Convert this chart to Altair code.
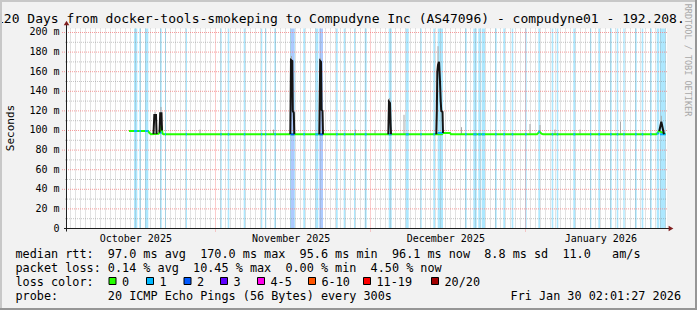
import altair as alt
import pandas as pd

# ---------------- chart values ----------------
title_text = "120 Days from docker-tools-smokeping to Compudyne Inc (AS47096) - compudyne01 - 192.208."
y_title = "Seconds"
watermark = "RRDTOOL / TOBI OETIKER"

y_ticks_ms = [0, 20, 40, 60, 80, 100, 120, 140, 160, 180, 200]
y_ticks_text = ["0", "20 m", "40 m", "60 m", "80 m", "100 m", "120 m", "140 m", "160 m", "180 m", "200 m"]
y_minor_ms = [10, 30, 50, 70, 90, 110, 130, 150, 170, 190]

month_names = ["October 2025", "November 2025", "December 2025", "January 2026"]
month_label_day = [13.76, 44.84, 75.76, 106.76]
month_line_day = [29.7, 60.7, 91.7]
day_line_day = [0.7 + i for i in range(120)]

# median rtt (days since start of 120-day window, ms)
median_day = [12.4, 16.2, 16.5, 16.8, 18.3, 18.5, 18.9, 19.1, 19.3, 75.0, 75.2, 76.6, 76.8,
              94.0, 94.5, 94.9, 95.2, 117.9, 118.4, 119.4, 119.7]
median_ms = [99.5, 99.5, 97.5, 96.3, 96.6, 97.8, 105.0, 97.0, 96.1, 96.1, 97.5, 97.5, 96.1,
             96.1, 98.8, 96.8, 96.1, 96.1, 99.5, 96.8, 96.1]

# latency spikes
spike_id = [1] * 4 + [2] * 4 + [3] * 6 + [4] * 6 + [5] * 5 + [6] * 10 + [8] * 3
spike_day = [17.3, 17.46, 17.8, 17.92,
             18.5, 18.64, 18.9, 19.0,
             44.66, 44.8, 45.06, 45.16, 45.36, 45.46,
             50.46, 50.64, 50.8, 50.92, 51.1, 51.2,
             64.26, 64.4, 64.6, 64.72, 64.8,
             73.86, 73.96, 74.06, 74.2, 74.4, 74.6, 74.74, 74.86, 75.1, 75.2,
             118.46, 118.86, 119.4]
spike_ms = [96.3, 115.8, 115.8, 96.3,
            97.8, 117.5, 117.5, 100.0,
            96.1, 172.0, 171.0, 120.0, 118.0, 96.1,
            96.1, 171.0, 170.0, 121.0, 120.0, 96.1,
            96.1, 129.4, 128.0, 107.0, 96.1,
            96.1, 117.5, 160.0, 166.8, 170.0, 150.0, 130.0, 120.0, 119.0, 97.5,
            99.5, 109.0, 96.1]

# smoke (ping spread)
smoke_day = [17.6, 18.8, 44.9, 50.7, 64.5, 74.2, 118.86, 26.6, 41.3, 57.7, 61.6, 67.4,
             78.9, 92.6, 94.6, 97.6, 102.6, 110.7]
smoke_lo = [115.8, 117.5, 170, 170, 128, 166, 109, 96, 96, 96, 96, 96, 96, 96, 98.8, 96, 96, 96]
smoke_hi = [119, 124, 176, 174, 133, 186, 115, 101, 101, 101, 100.5, 116, 103.4, 106.6, 105.6,
            101, 101, 109]

# packet loss periods (start day, end day, lost pings, median at that time)
loss_start = [13.4, 14.46, 15.6, 18.6, 19.6, 23.74, 30.66, 32.14, 35.34,
              38.8, 39.6, 41.46, 44.6, 44.8, 45.46, 47.26, 49.66, 50.46, 53.8, 55.34, 57.4,
              59.54, 64.34, 67.74, 70.66, 73.26, 74.14,
              79.6, 81.26, 82.26, 82.94, 85.6, 87.26, 88.94, 91.6, 94.26, 96.94, 97.94, 101.26,
              104.6, 106.26, 108.6, 109.94, 111.26, 113.6, 114.94, 116.6, 117.94, 118.6]
loss_end = [14.06, 14.8, 16.26, 18.94, 19.8, 24.0, 30.94, 32.46, 35.66,
            39.06, 39.86, 41.8, 44.8, 45.46, 45.6, 47.6, 50.26, 51.2, 54.14, 55.66, 57.66,
            59.94, 64.94, 68.34, 70.94, 73.6, 75.2,
            79.94, 81.94, 82.74, 83.6, 85.94, 87.6, 89.26, 91.94, 94.6, 97.26, 98.26, 101.66,
            104.86, 106.6, 108.94, 110.26, 111.54, 113.94, 115.26, 116.94, 118.46, 119.74]
loss_level = [1, 1, 1, 1, 1, 1, 1, 1, 1,
              1, 1, 1, 1, 2, 1, 1, 1, 2, 1, 1, 1,
              1, 1, 1, 1, 1, 1,
              1, 1, 1, 1, 1, 1, 1, 1, 1, 1, 1, 1,
              1, 1, 1, 1, 1, 1, 1, 1, 1, 1]
loss_median = [99.5, 99.5, 99.5, 97.8, 96.1, 96.1, 96.1, 96.1, 96.1,
               96.1, 96.1, 96.1, 96.1, 96.1, 96.1, 96.1, 96.1, 96.1, 96.1, 96.1, 96.1,
               96.1, 96.1, 96.1, 96.1, 96.1, 97.5,
               96.1, 96.1, 96.1, 96.1, 96.1, 96.1, 96.1, 96.1, 98.8, 96.1, 96.1, 96.1,
               96.1, 96.1, 96.1, 96.1, 96.1, 96.1, 96.1, 96.1, 97.0, 96.1]

# legend
median_line_text = "median rtt:  97.0 ms avg  170.0 ms max  95.6 ms min  96.1 ms now  8.8 ms sd  11.0   am/s"
loss_line_text = "packet loss: 0.14 % avg  10.45 % max  0.00 % min  4.50 % now"
loss_color_title = "loss color:"
loss_labels = ["0", "1", "2", "3", "4-5", "6-10", "11-19", "20/20"]
loss_hex = ["#26ff00", "#00b8ff", "#0059ff", "#5e00ff", "#ff00ea", "#ff5500", "#ff0000", "#a10000"]
probe_text = "probe:       20 ICMP Echo Pings (56 Bytes) every 300s"
date_text = "Fri Jan 30 02:01:27 2026"

# ---------------- layout ----------------
X0, Y0 = 67, 28.5
PW, PH = 600, 200
YMAX = 204.08
FONT = "DejaVu Sans Mono"
NB = "\u00a0"

xs = alt.Scale(domain=[0, 120], nice=False, zero=False)
ys = alt.Scale(domain=[0, YMAX], nice=False, zero=False)


def X(f):
    return alt.X(f, scale=xs, axis=None)


def Y(f):
    return alt.Y(f, scale=ys, axis=None)


def px(v):
    return alt.value(v - X0)


def py(v):
    return alt.value(v - Y0)


def txt(t, x, y, size, align="left", baseline="alphabetic", angle=0, color="#000000"):
    return alt.Chart(pd.DataFrame({"t": [t.replace(" ", NB)]})).mark_text(
        font=FONT, fontSize=size, align=align, baseline=baseline, angle=angle, color=color
    ).encode(text="t:N", x=px(x), y=py(y))


layers = []

# loss bands
bands_df = pd.DataFrame({"d0": loss_start, "d1": loss_end, "lvl": loss_level, "med": loss_median})
bands_df["fill"] = [loss_hex[l] for l in bands_df["lvl"]]
layers.append(alt.Chart(bands_df).mark_rect(opacity=0.32).encode(
    x=X("d0:Q"), x2="d1:Q", y=alt.value(0), y2=alt.value(PH),
    color=alt.Color("fill:N", scale=None)))

# grids
minor_v = [d for d in day_line_day if all(abs(d - m) > 0.01 for m in month_line_day)]
layers.append(alt.Chart(pd.DataFrame({"d": minor_v})).mark_rule(
    color="#8c8c8c", opacity=0.5, strokeDash=[1, 1], strokeWidth=1).encode(
    x=X("d:Q"), y=alt.value(0), y2=alt.value(PH)))
layers.append(alt.Chart(pd.DataFrame({"ms": y_minor_ms})).mark_rule(
    color="#8c8c8c", opacity=0.5, strokeDash=[1, 1], strokeWidth=1).encode(
    y=Y("ms:Q"), x=alt.value(-2), x2=alt.value(PW)))
layers.append(alt.Chart(pd.DataFrame({"d": month_line_day})).mark_rule(
    color="#f58080", opacity=0.8, strokeDash=[1, 1], strokeWidth=1).encode(
    x=X("d:Q"), y=alt.value(0), y2=alt.value(PH + 3)))
layers.append(alt.Chart(pd.DataFrame({"ms": y_ticks_ms[1:]})).mark_rule(
    color="#f58080", opacity=0.8, strokeDash=[1, 1], strokeWidth=1).encode(
    y=Y("ms:Q"), x=alt.value(-5), x2=alt.value(PW)))

# smoke
layers.append(alt.Chart(pd.DataFrame({"d": smoke_day, "lo": smoke_lo, "hi": smoke_hi})).mark_rule(
    color="#a8a8a8", strokeWidth=1).encode(x=X("d:Q"), y=Y("lo:Q"), y2="hi:Q"))

# median line
layers.append(alt.Chart(pd.DataFrame({"d": median_day, "ms": median_ms})).mark_line(
    color="#26ff00", strokeWidth=2).encode(x=X("d:Q"), y=Y("ms:Q")))

# median coloured by loss during loss periods
layers.append(alt.Chart(bands_df).mark_rule(strokeWidth=2).encode(
    x=X("d0:Q"), x2="d1:Q", y=Y("med:Q"), color=alt.Color("fill:N", scale=None)))

# spikes
layers.append(alt.Chart(pd.DataFrame({"d": spike_day, "ms": spike_ms, "id": spike_id})).mark_line(
    color="#141414", strokeWidth=2).encode(x=X("d:Q"), y=Y("ms:Q"), detail="id:N"))

# axes
layers.append(alt.Chart(pd.DataFrame({"a": [0]})).mark_rule(color="#1f1f1f", strokeWidth=1).encode(
    x=alt.value(-0.5), y=alt.value(-4), y2=alt.value(PH + 3)))
layers.append(alt.Chart(pd.DataFrame({"a": [0]})).mark_rule(color="#1f1f1f", strokeWidth=1).encode(
    y=alt.value(PH), x=alt.value(-3), x2=alt.value(PW + 3)))
layers.append(alt.Chart(pd.DataFrame({"a": [0]})).mark_point(
    shape="triangle-up", filled=True, size=30, color="#801f1f", opacity=1).encode(
    x=alt.value(-0.5), y=alt.value(-5.5)))
layers.append(alt.Chart(pd.DataFrame({"a": [0]})).mark_point(
    shape="triangle-right", filled=True, size=30, color="#801f1f", opacity=1).encode(
    x=alt.value(PW + 4), y=alt.value(PH)))

# y tick labels
ylab = pd.DataFrame({"ms": y_ticks_ms,
                     "t": [t if t != "0" else "0" + NB + NB for t in y_ticks_text]})
ylab["t"] = ylab["t"].str.replace(" ", NB)
layers.append(alt.Chart(ylab).mark_text(font=FONT, fontSize=10, align="right", baseline="middle").encode(
    y=Y("ms:Q"), x=px(59.5), text="t:N"))

# month labels
layers.append(alt.Chart(pd.DataFrame({"d": month_label_day, "t": month_names})).mark_text(
    font=FONT, fontSize=10, align="center", baseline="alphabetic").encode(
    x=X("d:Q"), y=py(241.5), text="t:N"))

# titles
layers.append(txt(title_text, -4, 23, 13))
layers.append(txt(y_title, 13.5, 128, 11, align="center", angle=270))
layers.append(txt(watermark, 684.5, 60, 8.5, align="center", angle=90, color="#a8a8a8"))

# legend
layers.append(txt(median_line_text, 15.5, 258.3, 11.8))
layers.append(txt(loss_line_text, 15.5, 272.3, 11.8))
layers.append(txt(loss_color_title, 15.5, 285.5, 11.8))
layers.append(txt(probe_text, 15.5, 300, 11.8))
layers.append(txt(date_text, 681, 300, 11.8, align="right"))
box_x = [108.5, 146, 183.5, 220, 257, 308, 363, 431]
for bx, lab, col in zip(box_x, loss_labels, loss_hex):
    layers.append(alt.Chart(pd.DataFrame({"a": [0]})).mark_rect(
        color=col, stroke="#000000", strokeWidth=1).encode(
        x=px(bx + 0.5), x2=px(bx + 7.5), y=py(277.5), y2=py(284.5)))
    layers.append(txt(lab, bx + 13.5, 285.5, 11.8))

# frame
frame = [(-X0 + 1, -Y0, -X0 + 1, 310 - Y0, "#c8c8c8"),
         (-X0, -Y0 + 1, 697 - X0, -Y0 + 1, "#c8c8c8"),
         (696 - X0, -Y0, 696 - X0, 310 - Y0, "#969696"),
         (-X0, 309 - Y0, 697 - X0, 309 - Y0, "#969696")]
for x1, y1, x2, y2, c in frame:
    layers.append(alt.Chart(pd.DataFrame({"a": [0]})).mark_rule(color=c, strokeWidth=2).encode(
        x=alt.value(x1), y=alt.value(y1), x2=alt.value(x2), y2=alt.value(y2)))

chart = alt.layer(*layers).properties(
    width=PW, height=PH,
    padding={"left": X0, "top": Y0, "right": 697 - X0 - PW, "bottom": 310 - Y0 - PH},
    autosize=alt.AutoSizeParams(type="none"),
    background="#f2f2f2",
).configure_view(stroke=None, fill="#ffffff")

chart.save("out.html", embed_options={"renderer": "svg", "actions": False})
